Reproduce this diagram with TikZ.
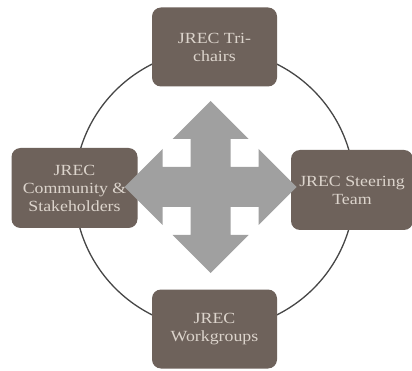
\documentclass[tikz,border=0pt]{standalone}
\usepackage{fontspec}
\setmainfont{Liberation Serif}[FakeStretch=1.15]
\begin{document}
\begin{tikzpicture}[x=1pt,y=-1pt,
  boxnode/.style={draw=none, fill=boxfill, rounded corners=9pt, minimum width=125pt,
    minimum height=79pt, inner sep=2pt, align=center, text=boxtext,
    font=\fontsize{15.5pt}{18pt}\selectfont},
  ring/.style={draw=ringgray, line width=1.3pt},
  arrowshape/.style={fill=arrowgray, draw=none}]
\definecolor{boxfill}{HTML}{6E625B}
\definecolor{boxtext}{HTML}{DCD4CC}
\definecolor{ringgray}{HTML}{464646}
\definecolor{arrowgray}{HTML}{A0A0A0}
\useasboundingbox (0,0) rectangle (412,371);
\fill[white] (0,0) rectangle (412,371);
% ring
\draw[ring] (214.5,189.5) circle[radius=140];
% boxes
\node[boxnode] (top) at (214.5,47) {JREC Tri-\\chairs};
\node[boxnode, minimum width=126pt, minimum height=80pt] (left) at (74.5,188) {JREC\\Community \&\\Stakeholders};
\node[boxnode, minimum width=122pt, minimum height=80pt] (right) at (352,190) {JREC Steering\\Team};
\node[boxnode] (bottom) at (214.5,329) {JREC\\Workgroups};
% four-way arrow
\begin{scope}[shift={(210.5,187)}]
\def\L{86}\def\H{38}\def\W{38}\def\S{20}
\fill[arrowshape]
 (0,-\L) -- (\W,-\L+\H) -- (\S,-\L+\H) -- (\S,-\S) -- (\L-\H,-\S) -- (\L-\H,-\W)
 -- (\L,0) -- (\L-\H,\W) -- (\L-\H,\S) -- (\S,\S) -- (\S,\L-\H) -- (\W,\L-\H)
 -- (0,\L) -- (-\W,\L-\H) -- (-\S,\L-\H) -- (-\S,\S) -- (-\L+\H,\S) -- (-\L+\H,\W)
 -- (-\L,0) -- (-\L+\H,-\W) -- (-\L+\H,-\S) -- (-\S,-\S) -- (-\S,-\L+\H) -- (-\W,-\L+\H)
 -- cycle;
\end{scope}
\end{tikzpicture}
\end{document}
